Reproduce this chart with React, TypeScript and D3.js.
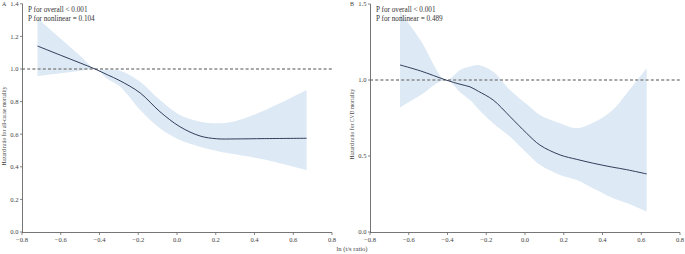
import React from "react";
import * as d3 from "d3";

// Panel A: all-cause mortality
const xAll = [-0.72, -0.6, -0.5, -0.423, -0.36, -0.294, -0.19, -0.088, 0.015, 0.119, 0.205, 0.3, 0.45, 0.669];
const hrAll = [1.141, 1.084, 1.037, 1.0, 0.965, 0.928, 0.853, 0.738, 0.646, 0.589, 0.572, 0.571, 0.573, 0.575];
const upAll = [1.311, 1.185, 1.081, 1.0, 0.995, 0.99, 0.922, 0.81, 0.718, 0.677, 0.667, 0.68, 0.745, 0.871];
const loAll = [0.957, 0.974, 0.989, 1.0, 0.94, 0.892, 0.748, 0.636, 0.564, 0.523, 0.497, 0.477, 0.445, 0.38];

// Panel B: CVD mortality
const xCvd = [-0.645, -0.54, -0.408, -0.335, -0.284, -0.241, -0.164, -0.077, 0.009, 0.077, 0.181, 0.267, 0.353, 0.45, 0.525, 0.628];
const hrCvd = [1.099, 1.06, 1.0, 0.972, 0.955, 0.926, 0.868, 0.759, 0.649, 0.572, 0.507, 0.478, 0.452, 0.427, 0.41, 0.382];
const upCvd = [1.45, 1.263, 1.0, 1.066, 1.088, 1.099, 1.055, 0.934, 0.84, 0.77, 0.715, 0.682, 0.72, 0.8, 0.912, 1.077];
const loCvd = [0.82, 0.9, 1.0, 0.92, 0.868, 0.81, 0.715, 0.627, 0.52, 0.442, 0.375, 0.342, 0.287, 0.226, 0.19, 0.134];

const xTicks = [-0.8, -0.6, -0.4, -0.2, 0.0, 0.2, 0.4, 0.6, 0.8];
const yTicksA = [0, 0.2, 0.4, 0.6, 0.8, 1.0, 1.2, 1.4];
const yTicksB = [0, 0.5, 1.0, 1.5];

const FONT = "'Liberation Serif', 'DejaVu Serif', serif";
const AXIS = "#666";
const TXT = "#444";

type PanelProps = {
  letter: string;
  x0: number;
  yMax: number;
  yTop: number;
  yTicks: number[];
  xs: number[];
  hr: number[];
  up: number[];
  lo: number[];
  yTitle: string;
  titleX: number;
  titleY: number;
  pNonlinear: string;
};

function Panel(p: PanelProps) {
  const x = d3.scaleLinear().domain([-0.8, 0.8]).range([p.x0, p.x0 + 310]);
  const y = d3.scaleLinear().domain([0, p.yMax]).range([232, p.yTop]);
  const idx = p.xs.map((_, i) => i);
  const area = d3
    .area<number>()
    .x((i) => x(p.xs[i]))
    .y0((i) => y(p.lo[i]))
    .y1((i) => y(p.up[i]))
    .curve(d3.curveCatmullRom.alpha(0.5));
  const line = d3
    .line<number>()
    .x((i) => x(p.xs[i]))
    .y((i) => y(p.hr[i]))
    .curve(d3.curveCatmullRom.alpha(0.5));
  const fmtY = (v: number) => v.toFixed(1);
  return (
    <g>
      <path d={area(idx) || ""} fill="#dde9f4" stroke="none" />
      <line
        x1={x(-0.8)}
        x2={x(0.8)}
        y1={y(1)}
        y2={y(1)}
        stroke="#8a8a8a"
        strokeWidth={1.6}
        strokeDasharray="3,2.2"
      />
      <path d={line(idx) || ""} fill="none" stroke="#1d2a4a" strokeWidth={0.9} />
      {/* axes */}
      <line x1={x(-0.8)} x2={x(0.8)} y1={232.5} y2={232.5} stroke={AXIS} strokeWidth={0.9} />
      <line x1={p.x0 + 0.5} x2={p.x0 + 0.5} y1={y(p.yMax)} y2={232.5} stroke={AXIS} strokeWidth={0.9} />
      {xTicks.map((t) => (
        <g key={"x" + t}>
          <line x1={x(t)} x2={x(t)} y1={232.5} y2={235} stroke={AXIS} strokeWidth={0.8} />
          <text
            x={x(t)}
            y={241.5}
            textAnchor="middle"
            fontSize={6.6}
            fill={TXT}
            fontFamily={FONT}
          >
            {t === 0 ? "0.0" : d3.format(".1f")(t).replace("-", "\u2212")}
          </text>
        </g>
      ))}
      {p.yTicks.map((t) => (
        <g key={"y" + t}>
          <line x1={p.x0 - 2} x2={p.x0 + 0.5} y1={y(t)} y2={y(t)} stroke={AXIS} strokeWidth={0.8} />
          <text
            x={p.x0 - 3.5}
            y={y(t) + 2.3}
            textAnchor="end"
            fontSize={6.6}
            fill={TXT}
            fontFamily={FONT}
          >
            {fmtY(t)}
          </text>
        </g>
      ))}
      <text x={p.x0 - 20} y={6} fontSize={6} fill={TXT} fontFamily={FONT}>
        {p.letter}
      </text>
      <text
        transform={`translate(${p.titleX},${p.titleY}) rotate(-90)`}
        textAnchor="middle"
        fontSize={5.6}
        fill={TXT}
        fontFamily={FONT}
      >
        {p.yTitle}
      </text>
      <text x={p.x0 + 6} y={12} fontSize={7.2} fill="#333" fontFamily={FONT}>
        P for overall &lt; 0.001
      </text>
      <text x={p.x0 + 6} y={21} fontSize={7.2} fill="#333" fontFamily={FONT}>
        {"P for nonlinear = " + p.pNonlinear}
      </text>
    </g>
  );
}

export default function App() {
  return (
    <svg
      width={685}
      height={254}
      style={{ position: "absolute", left: 0, top: 0, background: "#fff" }}
    >
      <rect width={685} height={254} fill="#fff" />
      <Panel
        letter="A"
        x0={22}
        yMax={1.4}
        yTop={3.8}
        yTicks={yTicksA}
        xs={xAll}
        hr={hrAll}
        up={upAll}
        lo={loAll}
        yTitle="Hazard ratio for all-cause mortality"
        titleX={6}
        titleY={126}
        pNonlinear="0.104"
      />
      <Panel
        letter="B"
        x0={370}
        yMax={1.5}
        yTop={4}
        yTicks={yTicksB}
        xs={xCvd}
        hr={hrCvd}
        up={upCvd}
        lo={loCvd}
        yTitle="Hazard ratio for CVD mortality"
        titleX={354}
        titleY={124}
        pNonlinear="0.489"
      />
      <text x={352} y={251} textAnchor="middle" fontSize={6.6} fill={TXT} fontFamily={FONT}>
        ln (t/s ratio)
      </text>
    </svg>
  );
}
